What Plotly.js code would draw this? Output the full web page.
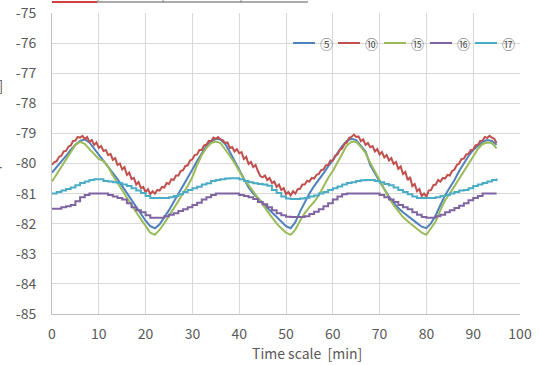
<!DOCTYPE html>
<html>
<head>
<meta charset="utf-8">
<script src="https://cdn.plot.ly/plotly-3.0.1.min.js"></script>
<style>html,body{margin:0;padding:0;background:#fff;}#chart{width:539px;height:365px;}</style>
</head>
<body>
<div id="chart"></div>
<script>
// Time axis (minutes), 1-minute samples
const timeMin = [0,1,2,3,4,5,6,7,8,9,10,11,12,13,14,15,16,17,18,19,20,21,22,23,24,25,26,27,28,29,30,31,32,33,34,35,36,37,38,39,40,41,42,43,44,45,46,47,48,49,50,51,52,53,54,55,56,57,58,59,60,61,62,63,64,65,66,67,68,69,70,71,72,73,74,75,76,77,78,79,80,81,82,83,84,85,86,87,88,89,90,91,92,93,94,95];
// Time axis for the noisier series, 0.5-minute samples
const timeHalf = [0,0.5,1,1.5,2,2.5,3,3.5,4,4.5,5,5.5,6,6.5,7,7.5,8,8.5,9,9.5,10,10.5,11,11.5,12,12.5,13,13.5,14,14.5,15,15.5,16,16.5,17,17.5,18,18.5,19,19.5,20,20.5,21,21.5,22,22.5,23,23.5,24,24.5,25,25.5,26,26.5,27,27.5,28,28.5,29,29.5,30,30.5,31,31.5,32,32.5,33,33.5,34,34.5,35,35.5,36,36.5,37,37.5,38,38.5,39,39.5,40,40.5,41,41.5,42,42.5,43,43.5,44,44.5,45,45.5,46,46.5,47,47.5,48,48.5,49,49.5,50,50.5,51,51.5,52,52.5,53,53.5,54,54.5,55,55.5,56,56.5,57,57.5,58,58.5,59,59.5,60,60.5,61,61.5,62,62.5,63,63.5,64,64.5,65,65.5,66,66.5,67,67.5,68,68.5,69,69.5,70,70.5,71,71.5,72,72.5,73,73.5,74,74.5,75,75.5,76,76.5,77,77.5,78,78.5,79,79.5,80,80.5,81,81.5,82,82.5,83,83.5,84,84.5,85,85.5,86,86.5,87,87.5,88,88.5,89,89.5,90,90.5,91,91.5,92,92.5,93,93.5,94,94.5,95];

const seriesNames = ['⑤','⑩','⑮','⑯','⑰'];
const seriesColors = ['#4F81BD','#C0504D','#9BBB59','#8064A2','#4BACC6'];

const s05 = [-80.30,-80.12,-79.95,-79.75,-79.55,-79.38,-79.25,-79.20,-79.30,-79.50,-79.70,-79.88,-80.08,-80.30,-80.52,-80.75,-80.98,-81.22,-81.45,-81.68,-81.90,-82.08,-82.15,-82.02,-81.80,-81.55,-81.28,-81.02,-80.75,-80.48,-80.20,-79.92,-79.65,-79.42,-79.27,-79.18,-79.20,-79.35,-79.62,-79.92,-80.22,-80.52,-80.80,-81.00,-81.14,-81.30,-81.47,-81.62,-81.78,-81.94,-82.08,-82.15,-81.95,-81.60,-81.28,-81.00,-80.75,-80.55,-80.33,-80.10,-79.90,-79.65,-79.42,-79.25,-79.18,-79.22,-79.40,-79.60,-80.05,-80.35,-80.60,-80.85,-81.10,-81.30,-81.48,-81.62,-81.75,-81.88,-81.98,-82.10,-82.15,-81.98,-81.72,-81.38,-81.05,-80.80,-80.55,-80.25,-80.00,-79.75,-79.55,-79.42,-79.28,-79.22,-79.25,-79.38];

const s10 = [-80.05,-79.95,-79.92,-79.78,-79.74,-79.60,-79.58,-79.44,-79.40,-79.25,-79.24,-79.12,-79.14,-79.08,-79.18,-79.12,-79.28,-79.22,-79.38,-79.30,-79.48,-79.42,-79.58,-79.55,-79.72,-79.68,-79.88,-79.82,-80.05,-80.00,-80.20,-80.12,-80.38,-80.30,-80.52,-80.48,-80.70,-80.62,-80.82,-80.78,-80.95,-80.85,-81.02,-80.92,-81.00,-80.88,-80.90,-80.78,-80.80,-80.65,-80.68,-80.52,-80.55,-80.40,-80.40,-80.25,-80.22,-80.08,-80.06,-79.90,-79.86,-79.72,-79.70,-79.55,-79.55,-79.40,-79.38,-79.25,-79.26,-79.14,-79.18,-79.12,-79.20,-79.22,-79.32,-79.30,-79.48,-79.45,-79.60,-79.52,-79.66,-79.62,-79.85,-79.78,-80.02,-79.95,-80.12,-80.05,-80.25,-80.42,-80.46,-80.40,-80.55,-80.48,-80.65,-80.60,-80.78,-80.70,-80.88,-80.82,-81.02,-80.95,-81.06,-80.92,-81.00,-80.85,-80.84,-80.70,-80.70,-80.58,-80.60,-80.48,-80.50,-80.38,-80.35,-80.22,-80.20,-80.06,-80.05,-79.90,-79.90,-79.74,-79.70,-79.55,-79.50,-79.35,-79.30,-79.15,-79.12,-79.04,-79.12,-79.10,-79.26,-79.20,-79.38,-79.32,-79.46,-79.42,-79.60,-79.52,-79.70,-79.62,-79.80,-79.72,-79.90,-79.82,-80.02,-79.95,-80.18,-80.10,-80.35,-80.28,-80.55,-80.45,-80.75,-80.68,-80.92,-80.85,-81.08,-81.00,-81.10,-80.90,-80.88,-80.72,-80.70,-80.55,-80.60,-80.48,-80.50,-80.38,-80.40,-80.25,-80.20,-80.05,-80.00,-79.85,-79.84,-79.70,-79.68,-79.55,-79.54,-79.40,-79.38,-79.25,-79.24,-79.12,-79.15,-79.08,-79.14,-79.18,-79.32];

const s15 = [-80.60,-80.35,-80.10,-79.85,-79.60,-79.38,-79.28,-79.35,-79.52,-79.68,-79.85,-79.92,-80.12,-80.40,-80.65,-80.90,-81.15,-81.40,-81.62,-81.85,-82.08,-82.30,-82.37,-82.20,-81.98,-81.75,-81.52,-81.25,-80.98,-80.75,-80.45,-80.05,-79.72,-79.48,-79.32,-79.27,-79.32,-79.52,-79.75,-79.98,-80.25,-80.52,-80.72,-80.92,-81.12,-81.35,-81.58,-81.80,-82.00,-82.15,-82.30,-82.37,-82.20,-81.90,-81.65,-81.45,-81.28,-81.05,-80.75,-80.48,-80.25,-79.95,-79.65,-79.40,-79.28,-79.28,-79.45,-79.65,-79.98,-80.25,-80.55,-80.85,-81.15,-81.38,-81.60,-81.78,-81.92,-82.05,-82.18,-82.30,-82.37,-82.15,-81.92,-81.55,-81.22,-81.00,-80.75,-80.48,-80.25,-80.00,-79.75,-79.52,-79.35,-79.30,-79.32,-79.50];

const s16 = [-81.50,-81.50,-81.45,-81.42,-81.38,-81.25,-81.12,-81.05,-81.00,-81.00,-81.00,-81.00,-81.05,-81.10,-81.15,-81.20,-81.32,-81.45,-81.55,-81.62,-81.72,-81.80,-81.80,-81.80,-81.75,-81.70,-81.65,-81.58,-81.52,-81.45,-81.38,-81.30,-81.20,-81.12,-81.05,-81.00,-81.00,-81.00,-81.00,-81.00,-81.05,-81.08,-81.12,-81.18,-81.28,-81.35,-81.45,-81.55,-81.65,-81.72,-81.77,-81.78,-81.78,-81.78,-81.75,-81.68,-81.60,-81.52,-81.42,-81.32,-81.20,-81.10,-81.02,-81.00,-81.00,-81.00,-81.00,-81.00,-81.00,-81.00,-81.05,-81.12,-81.20,-81.28,-81.38,-81.45,-81.52,-81.62,-81.70,-81.78,-81.80,-81.80,-81.75,-81.70,-81.62,-81.55,-81.48,-81.40,-81.32,-81.22,-81.15,-81.08,-81.00,-81.00,-81.00,-81.00];

const s17 = [-81.00,-80.95,-80.90,-80.85,-80.80,-80.72,-80.65,-80.60,-80.55,-80.52,-80.52,-80.58,-80.60,-80.62,-80.65,-80.70,-80.75,-80.82,-80.90,-80.98,-81.08,-81.15,-81.15,-81.15,-81.15,-81.12,-81.08,-81.02,-80.95,-80.88,-80.82,-80.77,-80.70,-80.66,-80.58,-80.55,-80.52,-80.50,-80.49,-80.49,-80.52,-80.58,-80.62,-80.66,-80.68,-80.70,-80.74,-80.88,-80.98,-81.10,-81.16,-81.18,-81.18,-81.16,-81.15,-81.10,-81.06,-81.00,-80.95,-80.88,-80.82,-80.76,-80.70,-80.65,-80.62,-80.58,-80.56,-80.55,-80.55,-80.58,-80.62,-80.68,-80.72,-80.80,-80.88,-80.95,-81.02,-81.10,-81.15,-81.15,-81.15,-81.15,-81.12,-81.08,-81.05,-81.00,-80.95,-80.90,-80.88,-80.82,-80.75,-80.70,-80.65,-80.60,-80.55,-80.50];

const xTickVals = [0,10,20,30,40,50,60,70,80,90,100];
const yTickVals = [-85,-84,-83,-82,-81,-80,-79,-78,-77,-76,-75];

const xTitle = 'Time scale\u00a0\u00a0[min]';
const yTitleUnit = '[dBm]';
const yTitleName = '受信パワー';

const FONT = '"Noto Sans CJK JP", "Noto Sans", sans-serif';
const TXT = '#595959';

const xs = [timeMin, timeHalf, timeMin, timeMin, timeMin];
const ys = [s05, s10, s15, s16, s17];
const shapesLine = ['linear','linear','linear','hv','hv'];

const traces = seriesNames.map((n, i) => ({
  type: 'scatter', mode: 'lines', name: n,
  x: xs[i], y: ys[i],
  line: {color: seriesColors[i], width: 2, shape: shapesLine[i]},
  hoverinfo: 'skip', showlegend: false
}));

const L = 52, R = 520, T = 13, B = 314;
const pw = R - L, ph = B - T;
const px = v => (v - L) / pw;
const py = v => (B - v) / ph;

// Legend (Excel-style: short line then circled label), laid out in pixels
const legendLineStart = [293, 338, 384, 430, 475];
const legendY = 43;
const legendShapes = seriesNames.map((n, i) => ({
  type: 'line', xref: 'paper', yref: 'paper',
  x0: px(legendLineStart[i]), x1: px(legendLineStart[i] + 22), y0: py(legendY), y1: py(legendY),
  line: {color: seriesColors[i], width: 2}
}));
const legendLabels = seriesNames.map((n, i) => ({
  text: n, xref: 'paper', yref: 'paper', x: px(legendLineStart[i] + 25), y: py(legendY),
  xanchor: 'left', yanchor: 'middle', showarrow: false,
  font: {family: FONT, size: 13, color: TXT}
}));

const layout = {
  width: 539, height: 365,
  margin: {l: L, r: 539 - R, t: T, b: 365 - B, pad: 0, autoexpand: false},
  paper_bgcolor: '#ffffff', plot_bgcolor: '#ffffff',
  font: {family: FONT, size: 14, color: TXT},
  showlegend: false,
  xaxis: {
    range: [0, 100], tickvals: xTickVals, ticktext: xTickVals.map(String),
    showgrid: true, gridcolor: '#D9D9D9', gridwidth: 1,
    showline: true, linecolor: '#BFBFBF', linewidth: 1,
    zeroline: false, ticks: '', ticklabelstandoff: 7,
    tickfont: {family: FONT, size: 14, color: TXT}, fixedrange: true
  },
  yaxis: {
    range: [-85, -75], tickvals: yTickVals, ticktext: yTickVals.map(String),
    showgrid: true, gridcolor: '#D9D9D9', gridwidth: 1,
    showline: true, linecolor: '#BFBFBF', linewidth: 1,
    zeroline: false, ticks: '', ticklabelstandoff: 12,
    tickfont: {family: FONT, size: 14, color: TXT}, fixedrange: true
  },
  annotations: [
    {text: xTitle, xref: 'paper', yref: 'paper', x: px(307), y: py(353), xanchor: 'center', yanchor: 'middle', showarrow: false, font: {family: FONT, size: 14, color: TXT}},
    {text: yTitleUnit, xref: 'paper', yref: 'paper', x: px(5), y: py(85), xanchor: 'right', yanchor: 'middle', showarrow: false, font: {family: FONT, size: 14, color: TXT}},
    {text: yTitleName, xref: 'paper', yref: 'paper', x: px(5), y: py(167), xanchor: 'right', yanchor: 'middle', showarrow: false, font: {family: FONT, size: 14, color: TXT}}
  ].concat(legendLabels),
  shapes: [
    {type: 'line', xref: 'paper', yref: 'paper', x0: px(52), x1: px(97), y0: py(2), y1: py(2), line: {color: '#C00000', width: 1.5}},
    {type: 'line', xref: 'paper', yref: 'paper', x0: px(97), x1: px(308), y0: py(2), y1: py(2), line: {color: '#595959', width: 1}},
    {type: 'line', xref: 'paper', yref: 'paper', x0: px(98), x1: px(98), y0: py(0), y1: py(3), line: {color: '#8c8c8c', width: 1}},
    {type: 'line', xref: 'paper', yref: 'paper', x0: px(163), x1: px(163), y0: py(0), y1: py(3), line: {color: '#8c8c8c', width: 1}},
    {type: 'line', xref: 'paper', yref: 'paper', x0: px(241), x1: px(241), y0: py(0), y1: py(3), line: {color: '#8c8c8c', width: 1}}
  ].concat(legendShapes)
};

Plotly.newPlot('chart', traces, layout, {staticPlot: true, displayModeBar: false});
</script>
</body>
</html>
